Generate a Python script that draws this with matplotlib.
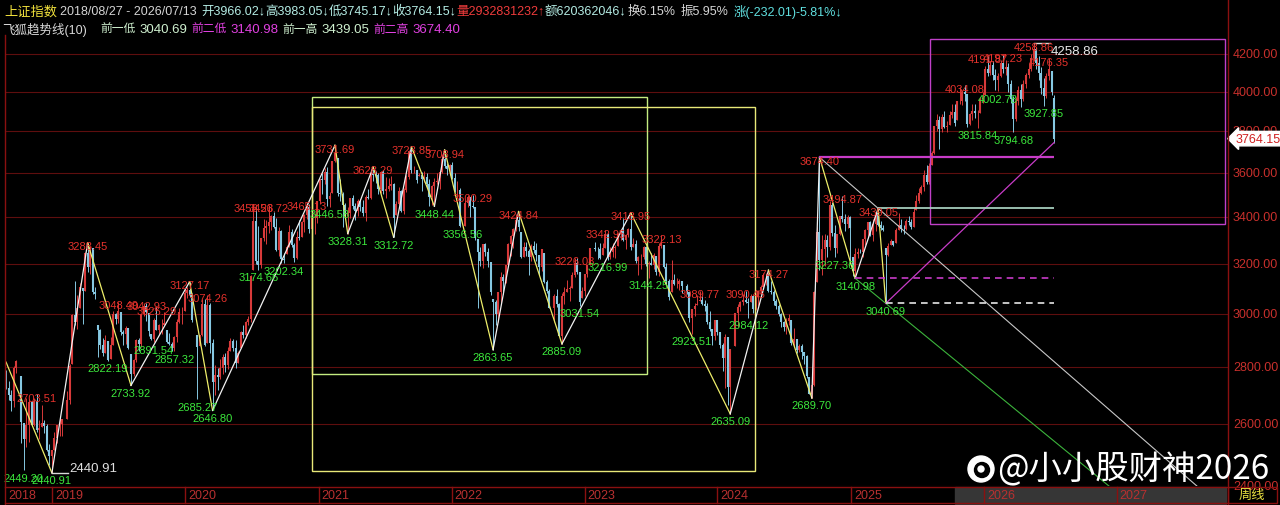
import numpy as np
import pandas as pd
import matplotlib
matplotlib.use('Agg')
import matplotlib.pyplot as plt
from matplotlib.lines import Line2D
from matplotlib.patches import Rectangle, Circle

plt.rcParams['font.family'] = ['Liberation Sans', 'Noto Sans CJK SC', 'DejaVu Sans']

nan = np.nan
W, H = 1280, 506

# weekly bars, one per Monday (nan = exchange closed the whole week)
weeks = pd.date_range('2018-08-27', '2026-07-13', freq='W-MON')
first_open = 2730.0
last_open = 3966.02

c18 = [2725, 2702, 2681, 2797, 2821, nan, 2606, 2550, 2598, 2676, 2598, 2679, 2579, 2588, 2605, 2594, 2516, 2494, 2514]
h18 = [2791, 2748, 2718, 2804, 2827, nan, 2768, 2603, 2691, 2686, 2681, 2691, 2704, 2613, 2667, 2613, 2600, 2534, 2515]
l18 = [2720, 2683, 2644, 2657, 2777, nan, 2536, 2449, 2525, 2541, 2593, 2595, 2573, 2552, 2590, 2572, 2510, 2466, 2441]

c19 = [2553, 2596, 2601, 2618, nan, 2682, 2804, 2994, 2969, 3021, 3104, 3090, 3247, 3189, 3270, 3086, 3078, 2939, 2882, 2852,
       2898, 2827, 2882, 3001, 2979, 3011, 2930, 2924, 2944, 2868, 2775, 2824, 2898, 2886, 2999, 3031, 3006, 2932, 2905, 2974,
       2938, 2955, 2958, 2964, 2891, 2885, 2871, 2912, 2968, 3005, 3005, 3083]
h19 = [2575, 2599, 2618, 2619, nan, 2716, 2810, 3000, 3129, 3075, 3120, 3103, 3248, 3288, 3272, 3268, 3104, 2957, 2941, 2906,
       2920, 2897, 2910, 3010, 3004, 3048, 3008, 2939, 2953, 2945, 2846, 2830, 2903, 2908, 3000, 3042, 3043, 3002, 2921, 2985,
       3025, 2962, 2980, 3005, 2937, 2927, 2891, 2913, 2980, 3021, 3028, 3098]
l19 = [2515, 2536, 2562, 2559, nan, 2618, 2669, 2812, 2955, 2941, 3023, 2962, 3089, 3167, 3159, 3078, 3058, 2838, 2867, 2842,
       2851, 2822, 2830, 2882, 2961, 2966, 2919, 2880, 2886, 2866, 2734, 2766, 2818, 2857, 2874, 2990, 2973, 2916, 2901, 2892,
       2936, 2923, 2921, 2955, 2887, 2880, 2860, 2857, 2891, 2965, 2959, 3009]

c20 = [3092, 3075, 2976, nan, 2875, 2917, 3039, 2880, 3034, 2887, 2745, 2772, 2764, 2797, 2838, 2809, 2860, 2895, 2868, 2813,
       2852, 2931, 2920, 2967, 2980, 3152, 3383, 3214, 3197, 3310, 3354, 3361, 3380, 3404, 3355, 3260, 3338, 3219, 3218, 3272,
       3336, 3278, 3225, 3312, 3310, 3377, 3408, 3444, 3347, 3395, 3397, 3473]
h20 = [3107, 3127, 3081, nan, 2920, 2918, 3059, 3058, 3074, 3041, 2902, 2808, 2795, 2828, 2847, 2852, 2872, 2907, 2903, 2900,
       2857, 2934, 2956, 2971, 2993, 3156, 3458, 3444, 3362, 3311, 3391, 3386, 3456, 3409, 3425, 3396, 3355, 3345, 3244, 3281,
       3364, 3347, 3290, 3341, 3389, 3382, 3412, 3465, 3460, 3402, 3420, 3474]
l20 = [3060, 3067, 2970, nan, 2685, 2877, 2914, 2878, 2887, 2853, 2647, 2701, 2718, 2756, 2775, 2781, 2794, 2857, 2860, 2798,
       2816, 2869, 2907, 2907, 2956, 2970, 3177, 3200, 3174, 3182, 3297, 3283, 3330, 3345, 3352, 3254, 3232, 3206, 3202, 3240,
       3270, 3273, 3209, 3219, 3302, 3312, 3334, 3391, 3330, 3325, 3325, 3374]

c21 = [3570, 3566, 3606, 3483, 3496, 3655, 3696, 3509, 3502, 3453, 3405, 3418, 3484, 3451, 3426, 3474, 3447, 3418, 3490, 3487,
       3601, 3592, 3589, 3525, 3607, 3519, 3525, 3539, 3550, 3397, 3458, 3517, 3428, 3522, 3581, 3703, 3613, 3613, 3568, 3592,
       3572, 3582, 3547, 3491, 3539, 3560, 3564, 3607, 3666, 3632, 3618, 3640]
h21 = [3574, 3600, 3624, 3626, 3512, 3656, 3732, 3673, 3571, 3514, 3464, 3443, 3485, 3497, 3462, 3482, 3481, 3476, 3497, 3527,
       3618, 3628, 3611, 3600, 3611, 3613, 3581, 3579, 3585, 3556, 3474, 3534, 3524, 3529, 3592, 3707, 3724, 3632, 3616, 3602,
       3607, 3608, 3602, 3573, 3545, 3579, 3598, 3608, 3690, 3709, 3648, 3643]
l21 = [3457, 3505, 3550, 3451, 3447, 3510, 3652, 3496, 3474, 3358, 3403, 3328, 3396, 3435, 3387, 3406, 3427, 3407, 3382, 3479,
       3482, 3565, 3554, 3505, 3510, 3505, 3485, 3519, 3523, 3313, 3408, 3452, 3421, 3415, 3511, 3573, 3599, 3598, 3555, 3584,
       3516, 3560, 3529, 3451, 3455, 3448, 3548, 3527, 3601, 3624, 3593, 3593]

c22 = [3579, 3521, 3522, 3361, nan, 3462, 3491, 3451, 3447, 3309, 3251, 3212, 3282, 3251, 3211, 3087, 3047, 3001, 3084, 3146,
       3130, 3195, 3285, 3316, 3349, 3388, 3356, 3228, 3269, 3253, 3227, 3277, 3258, 3236, 3186, 3262, 3126, 3088, 3024, nan,
       3071, 3038, 2915, 3071, 3087, 3097, 3101, 3156, 3206, 3167, 3045, 3089]
h22 = [3651, 3599, 3562, 3530, nan, 3478, 3497, 3490, 3500, 3445, 3303, 3269, 3283, 3290, 3267, 3209, 3058, 3054, 3085, 3165,
       3158, 3195, 3286, 3322, 3352, 3414, 3425, 3336, 3294, 3294, 3261, 3283, 3296, 3288, 3237, 3263, 3247, 3135, 3096, nan,
       3077, 3097, 3043, 3081, 3106, 3135, 3108, 3167, 3226, 3223, 3165, 3106]
l22 = [3572, 3512, 3485, 3357, nan, 3362, 3444, 3400, 3440, 3302, 3023, 3192, 3183, 3234, 3186, 3073, 2864, 2955, 2968, 3043,
       3078, 3123, 3196, 3234, 3268, 3339, 3341, 3225, 3227, 3233, 3155, 3214, 3245, 3213, 3155, 3171, 3122, 3083, 3021, nan,
       2968, 3027, 2914, 2885, 3037, 3085, 3052, 3100, 3148, 3159, 3032, 3062]

c23 = [3157, 3195, 3265, nan, 3263, 3261, 3224, 3267, 3328, 3230, 3250, 3265, 3273, 3327, 3338, 3301, 3323, 3350, 3272, 3284,
       3212, 3230, 3231, 3273, 3198, 3202, 3197, 3238, 3168, 3276, 3288, 3189, 3131, 3064, 3133, 3116, 3117, 3132, 3110, nan,
       3088, 2983, 3017, 3030, 3038, 3054, 3040, 3031, 2969, 2942, 2914, 2975]
h23 = [3159, 3195, 3265, nan, 3293, 3273, 3290, 3288, 3343, 3329, 3273, 3290, 3280, 3330, 3349, 3395, 3327, 3352, 3419, 3309,
       3300, 3232, 3241, 3276, 3274, 3212, 3247, 3244, 3234, 3290, 3322, 3280, 3203, 3137, 3218, 3159, 3142, 3140, 3131, nan,
       3116, 3087, 3018, 3042, 3073, 3090, 3070, 3054, 3044, 3012, 2942, 2976]
l23 = [3069, 3147, 3197, nan, 3256, 3219, 3220, 3238, 3265, 3217, 3220, 3230, 3226, 3274, 3300, 3297, 3263, 3312, 3260, 3270,
       3202, 3154, 3180, 3220, 3193, 3144, 3194, 3180, 3153, 3150, 3266, 3185, 3117, 3053, 3087, 3112, 3103, 3093, 3082, nan,
       3076, 2969, 2923, 2990, 3034, 3049, 3034, 3010, 2960, 2934, 2882, 2900]

c24 = [2929, 2881, 2832, 2910, 2730, 2866, nan, 3004, 3027, 3046, 3054, 3048, 3041, 3069, 3019, 3065, 3088, 3105, 3154, 3154,
       3089, 3087, 3051, 3032, 2998, 2967, 2950, 2971, 2982, 2890, 2905, 2862, 2879, 2855, 2842, 2766, 2704, 2736, 3087, 3336,
       3217, 3261, 3300, 3272, 3452, 3330, 3268, 3326, 3404, 3391, 3368, 3400, 3352]
h24 = [2976, 2929, 2890, 2921, 2911, 2866, nan, 3004, 3040, 3050, 3076, 3090, 3062, 3076, 3069, 3077, 3092, 3113, 3163, 3161,
       3174, 3129, 3094, 3059, 3039, 3003, 2972, 2985, 3000, 2974, 2946, 2905, 2885, 2883, 2856, 2843, 2765, 2737, 3088, 3358,
       3674, 3324, 3325, 3324, 3470, 3466, 3366, 3327, 3404, 3495, 3412, 3410, 3407]
l24 = [2919, 2870, 2787, 2724, 2666, 2635, nan, 2879, 2950, 3009, 3033, 3044, 2984, 3045, 3002, 3016, 3031, 3078, 3105, 3113,
       3086, 3079, 3035, 3020, 2993, 2948, 2935, 2922, 2956, 2882, 2876, 2852, 2855, 2829, 2812, 2762, 2703, 2690, 2732, 3128,
       3177, 3153, 3192, 3228, 3259, 3317, 3227, 3245, 3321, 3377, 3340, 3353, 3201]

c25 = [3169, 3241, 3252, 3250, 3303, 3346, 3379, 3321, 3372, 3419, 3364, 3351, 3342, 3238, 3277, 3295, 3279, 3342, 3367, 3348,
       3347, 3385, 3377, 3359, 3424, 3472, 3510, 3534, 3593, 3559, 3635, 3697, 3825, 3857, 3812, 3870, 3820, 3828, 3882, 3897,
       3839, 3950, 3954, 3997, 3990, 3834, 3888, 3903, 3889, 3890, 3963, 3969]
h25 = [3231, 3267, 3268, 3264, 3304, 3347, 3380, 3383, 3391, 3420, 3439, 3382, 3367, 3266, 3287, 3304, 3297, 3352, 3417, 3391,
       3364, 3392, 3404, 3394, 3444, 3497, 3530, 3545, 3613, 3636, 3646, 3704, 3826, 3888, 3876, 3886, 3899, 3853, 3899, 3937,
       3936, 3951, 4026, 4010, 4034, 3990, 3891, 3937, 3936, 3908, 3972, 4000]
l25 = [3150, 3141, 3223, 3245, 3229, 3279, 3315, 3317, 3297, 3341, 3363, 3346, 3338, 3041, 3234, 3278, 3275, 3290, 3343, 3335,
       3326, 3345, 3364, 3347, 3359, 3432, 3461, 3502, 3518, 3550, 3550, 3636, 3691, 3800, 3715, 3795, 3817, 3798, 3829, 3866,
       3825, 3854, 3937, 3930, 3950, 3822, 3830, 3858, 3865, 3815, 3891, 3940]

c26 = [4120, 4100, 4140, 4090, 4060, 4080, 4150, 4120, 4130, 4040, 3960, 3860, 3950, 4010, 3960, 4040, 4090, 4120, 4180, 4230,
       4150, 4100, 4020, 3980, 4080, 4120, 3996.16, 3764.15]
h26 = [4135, 4192, 4165, 4160, 4120, 4100, 4170, 4197, 4170, 4150, 4060, 3980, 3975, 4030, 4040, 4060, 4100, 4150, 4200, 4259,
       4240, 4190, 4130, 4070, 4100, 4176, 4110, 3983.05]
l26 = [3985, 4080, 4085, 4060, 4010, 4003, 4075, 4100, 4090, 4000, 3940, 3795, 3850, 3930, 3920, 3950, 4020, 4070, 4110, 4160,
       4120, 4060, 3990, 3928, 3970, 4060, 3985, 3745.17]

closes = np.array(c18 + c19 + c20 + c21 + c22 + c23 + c24 + c25 + c26, dtype=float)
highs = np.array(h18 + h19 + h20 + h21 + h22 + h23 + h24 + h25 + h26, dtype=float)
lows = np.array(l18 + l19 + l20 + l21 + l22 + l23 + l24 + l25 + l26, dtype=float)

volume = 2932831232
amount = 620362046
turnover = 6.15

# trend (zigzag) pivots: week number, price
zz_week = [0, 18, 32, 49, 72, 81, 129, 134, 144, 152, 159, 168, 172, 191, 201, 218, 245, 284, 299, 316, 319, 333, 342, 345]
zz_price = [2818, 2440.91, 3288.45, 2733.92, 3127.17, 2646.80, 3731.69, 3328.31, 3628.29, 3312.72, 3723.85, 3448.44,
            3708.94, 2863.65, 3424.84, 2885.09, 3418.95, 2635.09, 3174.27, 2689.70, 3674.40, 3140.98, 3439.05, 3040.69]

# small swing labels
hi_week = [12, 32, 44, 55, 59, 72, 79, 97, 103, 118, 129, 144, 159, 172, 183, 201, 223, 235, 245, 257, 272, 290, 299,
           319, 328, 342, 376, 385, 391, 403, 409]
hi_price = [2703.51, 3288.45, 3048.49, 3042.93, 3025.29, 3127.17, 3074.26, 3458.23, 3456.72, 3465.13, 3731.69, 3628.29,
            3723.85, 3708.94, 3500.29, 3424.84, 3226.08, 3342.95, 3418.95, 3322.13, 3089.77, 3090.45, 3174.27, 3674.40,
            3494.87, 3439.05, 4034.08, 4191.87, 4197.23, 4258.86, 4176.35]
lo_week = [7, 18, 40, 49, 58, 66, 75, 81, 99, 109, 127, 134, 152, 168, 179, 191, 218, 225, 236, 252, 269, 284, 291, 316,
           325, 333, 345, 381, 389, 395, 407]
lo_price = [2449.20, 2440.91, 2822.19, 2733.92, 2891.54, 2857.32, 2685.27, 2646.80, 3174.66, 3202.34, 3446.58, 3328.31,
            3312.72, 3448.44, 3356.56, 2863.65, 2885.09, 3031.54, 3216.99, 3144.25, 2923.51, 2635.09, 2984.12, 2689.70,
            3227.36, 3140.98, 3040.69, 3815.84, 4002.78, 3794.68, 3927.85]

# support / resistance levels and where they start
lvl_name = ['前一低', '前二低', '前一高', '前二高']
lvl_price = [3040.69, 3140.98, 3439.05, 3674.40]
lvl_week = [345, 333, 342, 319]

# hand drawn boxes: week from, week to, low, high
box_w0 = [120, 120, 362.4]
box_w1 = [251.4, 293.7, 478]
box_lo = [2775, 2448, 3369]
box_hi = [3972, 3921, 4283]
box_col = ['#c4ec80', '#e8e878', '#c040c8']

grid_levels = [2400, 2600, 2800, 3000, 3200, 3400, 3600, 3800, 4000, 4200]
years = [2019, 2020, 2021, 2022, 2023, 2024, 2025, 2026, 2027]


def fx(px):
    return px / W


def fy(py):
    return 1 - py / H


fig = plt.figure(figsize=(W / 100, H / 100), dpi=100, facecolor='black')
ax = fig.add_axes([fx(5), fy(487), fx(1228) - fx(5), fy(36) - fy(487)])
ax.set_facecolor('black')
ax.set_yscale('log')
ax.set_ylim(2400, 4305)
ax.set_xlim(-0.4, 479.2)
for s in ax.spines.values():
    s.set_visible(False)
ax.tick_params(which='both', left=False, bottom=False, labelleft=False, labelbottom=False)

for v in grid_levels:
    ax.axhline(v, color='#5e0e0e', lw=0.8, zorder=0)

# candles
x = np.arange(len(closes))
prev = pd.Series(closes).ffill().shift(1).fillna(first_open).values
opens = np.clip(prev, lows, highs)
opens[-1] = last_open
ok = ~np.isnan(closes)
up = ok & (closes >= opens)
dn = ok & (closes < opens)
for m, col in [(up, '#d83a3a'), (dn, '#86c8e2')]:
    ax.vlines(x[m], lows[m], highs[m], color=col, lw=0.7, zorder=2)
    ax.vlines(x[m], np.minimum(opens[m], closes[m]), np.maximum(opens[m], closes[m]), color=col, lw=1.5, zorder=2)

# boxes
for w0, w1, lo, hi, col in zip(box_w0, box_w1, box_lo, box_hi, box_col):
    ax.add_patch(Rectangle((w0, lo), w1 - w0, hi - lo, fill=False, ec=col, lw=1.0, zorder=3))

# zigzag
for k in range(len(zz_week) - 1):
    col = '#f2f2f2' if zz_price[k + 1] > zz_price[k] else '#eeee6a'
    ax.plot(zz_week[k:k + 2], zz_price[k:k + 2], color=col, lw=0.9, zorder=4)


# trend lines
def extend(w1, p1, w2, p2, w_end):
    k = (np.log(p2) - np.log(p1)) / (w2 - w1)
    return [w1, w_end], [p1, np.exp(np.log(p1) + k * (w_end - w1))]


ex, ey = extend(lvl_week[3], lvl_price[3], lvl_week[2], lvl_price[2], 480)
ax.plot(ex, ey, color='#c8c8c8', lw=0.8, zorder=4)
ex, ey = extend(lvl_week[1], lvl_price[1], lvl_week[0], lvl_price[0], 480)
ax.plot(ex, ey, color='#3cb43c', lw=0.8, zorder=4)
ax.plot([lvl_week[0], x[-1]], [lvl_price[0], lows[-1]], color='#c83cc8', lw=0.9, zorder=4)

# level lines
ax.hlines(lvl_price[3], lvl_week[3], x[-1], color='#c83cc8', lw=1.6, zorder=4)
ax.hlines(lvl_price[2], lvl_week[2], x[-1], color='#a4ccbc', lw=1.3, zorder=4)
ax.hlines(lvl_price[1], lvl_week[1], x[-1], color='#c83cc8', lw=1.2, linestyles=(0, (4, 3)), zorder=4)
ax.hlines(lvl_price[0], lvl_week[0], x[-1], color='#e6e6e6', lw=1.2, linestyles=(0, (4, 3)), zorder=4)

# swing labels
for w, p in zip(hi_week, hi_price):
    ax.annotate(f'{p:.2f}', (w, p), xytext=(0, -2.5), textcoords='offset points', ha='center', va='center',
                color='#e6322c', fontsize=8, zorder=6)
for w, p in zip(lo_week, lo_price):
    ax.annotate(f'{p:.2f}', (w, p), xytext=(0, -5.3), textcoords='offset points', ha='center', va='center',
                color='#3ce83c', fontsize=8, zorder=6)

# extreme markers
i_lo = int(np.nanargmin(lows))
i_hi = int(np.nanargmax(highs))
ax.plot([i_lo, i_lo + 6.3], [lows[i_lo]] * 2, color='#d8d8d8', lw=1, zorder=5)
ax.annotate(f'{lo_price[1]:.2f}', (i_lo, lows[i_lo]), xytext=(12.2, 3.6), textcoords='offset points',
            ha='left', va='center', color='#e0e0e0', fontsize=9.5, zorder=6)
ax.plot([i_hi, i_hi + 6.3], [highs[i_hi]] * 2, color='#d8d8d8', lw=1, zorder=5)
ax.annotate('4258.86', (i_hi, highs[i_hi]), xytext=(12.2, -5.8), textcoords='offset points',
            ha='left', va='center', color='#e8e8e8', fontsize=9.5, zorder=6)

# right price axis
for v in grid_levels:
    ax.text(1.004, v, f'{v:.2f}', transform=ax.get_yaxis_transform(), color='#c8302c', fontsize=9,
            ha='left', va='center', clip_on=False)
ax.text(1.006, closes[-1], f'{closes[-1]:.2f}', transform=ax.get_yaxis_transform(), color='#d02020', fontsize=9,
        ha='left', va='center', clip_on=False, zorder=8,
        bbox=dict(boxstyle='larrow,pad=0.1', fc='white', ec='white'))

fig.add_artist(Line2D([fx(1228)] * 2, [0, 1], color='#8a1010', lw=1))
fig.add_artist(Line2D([fx(5)] * 2, [fy(505), fy(36)], color='#8a1010', lw=1))

# time axis strip
fig.add_artist(Rectangle((fx(955), fy(505)), fx(1226) - fx(955), fy(488) - fy(505), color='#363636', zorder=0))
for py in (488, 504):
    fig.add_artist(Line2D([fx(5), fx(1228)], [fy(py)] * 2, color='#8a1010', lw=1))
xt = ax.get_xaxis_transform()
ya = lambda py: (487 - py) / 451
ax.text(0.8, ya(496), '2018', transform=xt, color='#b83030', fontsize=9, va='center', clip_on=False)
for y in years:
    wx = (pd.Timestamp(f'{y}-01-01') - weeks[0]).days / 7
    ax.plot([wx, wx], [ya(488), ya(504)], transform=xt, color='#8a1010', lw=1, clip_on=False)
    ax.text(wx + 1.2, ya(496), str(y), transform=xt, color='#b83030', fontsize=9, va='center', clip_on=False)
fig.add_artist(Rectangle((fx(1228), fy(504)), fx(1277) - fx(1228), fy(488) - fy(504), fill=False, ec='#8a1010', lw=1))
fig.text(fx(1252), fy(496), '周线', color='#e8e040', fontsize=9.5, ha='center', va='center')

# header rows: text, wanted x (px), colour, min gap after previous, font size
renderer = fig.canvas.get_renderer()


def put_row(items, py):
    end = 0
    for s, px, col, gap, fs in items:
        t = fig.text(fx(max(px, end + gap)), fy(py), s, color=col, fontsize=fs, ha='left', va='center')
        end = t.get_window_extent(renderer).x1


prev_close = closes[-2]
chg = closes[-1] - prev_close
cyan = '#b4ece4'
put_row([('上证指数', 4, '#f0e03c', 0, 9.5),
         (f'{weeks[0]:%Y/%m/%d} - {weeks[-1]:%Y/%m/%d}', 60, '#d4d4d4', 3, 9),
         (f'开{last_open:.2f}↓', 201, cyan, 2, 9),
         (f'高{highs[-1]:.2f}↓', 261, cyan, 0, 9),
         (f'低{lows[-1]:.2f}↓', 326, cyan, 0, 9),
         (f'收{closes[-1]:.2f}↓', 390, cyan, 0, 9),
         (f'量{volume}↑', 455, '#f03c3c', 0, 9),
         (f'额{amount}↓', 538, cyan, 0, 9),
         (f'换{turnover:.2f}%', 0, '#d4d4d4', 1, 9),
         (f'振{(highs[-1] - lows[-1]) / prev_close * 100:.2f}%', 0, '#d4d4d4', 5, 9),
         (f'涨({chg:.2f}){chg / prev_close * 100:.2f}%↓', 0, '#60e0e0', 5, 9)], 12)

row2 = [('飞狐趋势线(10)', 2, '#d8d8d8', 0, 9)]
lvl_x = [100, 190, 271, 365]
for name, p, px in zip(lvl_name, lvl_price, lvl_x):
    col = '#e040e0' if '二' in name else '#cff0cf'
    row2.append((name, px, col, 4, 8.5))
    row2.append((f'{p:.2f}', px + 39, col, 4, 9.5))
put_row(row2, 30)

# watermark
fig.add_artist(Circle((9.81, 0.36), 0.13, transform=fig.dpi_scale_trans, color='white', zorder=9))
fig.add_artist(Circle((9.82, 0.35), 0.075, transform=fig.dpi_scale_trans, color='black', zorder=9))
fig.add_artist(Circle((9.81, 0.36), 0.03, transform=fig.dpi_scale_trans, color='white', zorder=9))
fig.text(fx(997), fy(470), '@小小股财神2026', color='white', fontsize=24, ha='left', va='center',
         family=['Noto Sans CJK SC', 'DejaVu Sans'], zorder=10)

fig.savefig('out.png', dpi=100, facecolor='black')
